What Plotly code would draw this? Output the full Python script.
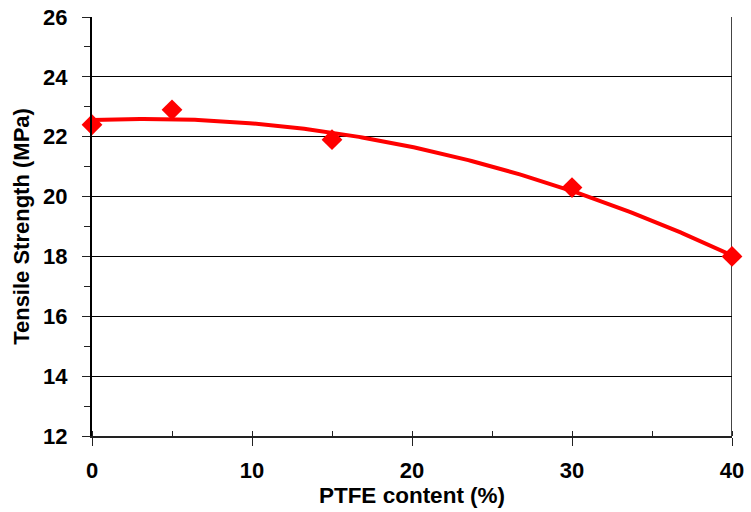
import numpy as np
import plotly.graph_objects as go

# PTFE content (%) and measured tensile strength (MPa)
ptfe_content = [0, 5, 15, 30, 40]
tensile_strength = [22.4, 22.9, 21.9, 20.3, 18.0]

# axis tick values and labels
x_ticks = [0, 10, 20, 30, 40]
y_ticks = [12, 14, 16, 18, 20, 22, 24, 26]

# second-order polynomial trendline through the measurements
coeffs = np.polyfit(ptfe_content, tensile_strength, 2)
trend_x = np.linspace(min(ptfe_content), max(ptfe_content), 200)
trend_y = np.polyval(coeffs, trend_x)

RED = "#FF0000"
FONT = "Liberation Sans, Arial, sans-serif"
AXIS = "#222222"

fig = go.Figure()
fig.add_trace(go.Scatter(
    x=trend_x, y=trend_y, mode="lines",
    line=dict(color=RED, width=4), hoverinfo="skip", showlegend=False,
))
fig.add_trace(go.Scatter(
    x=ptfe_content, y=tensile_strength, mode="markers",
    marker=dict(symbol="diamond", size=16, color=RED),
    cliponaxis=False, showlegend=False,
))

fig.update_layout(
    width=751, height=512,
    margin=dict(l=92, r=19, t=17, b=76),
    paper_bgcolor="white", plot_bgcolor="white",
    font=dict(family=FONT, color="black"),
    xaxis=dict(
        range=[0, 40], automargin=False,
        tickmode="array", tickvals=x_ticks,
        ticktext=[f"<b>{v}</b>" for v in x_ticks],
        showgrid=False, zeroline=False,
        showline=True, linecolor=AXIS, linewidth=2,
        ticks="outside", ticklen=8, tickwidth=1, tickcolor=AXIS,
        ticklabelstandoff=6,
        minor=dict(tickmode="linear", tick0=0, dtick=5, ticks="inside",
                   ticklen=5, tickcolor=AXIS, showgrid=False),
        tickfont=dict(size=22, family=FONT),
        title=dict(text="<b>PTFE content (%)</b>", font=dict(size=22.5, family=FONT), standoff=3),
    ),
    yaxis=dict(
        range=[12, 26], automargin=False,
        tickmode="array", tickvals=y_ticks,
        ticktext=[f"<b>{v}</b>" for v in y_ticks],
        showgrid=True, gridcolor="black", gridwidth=1, zeroline=False,
        showline=True, linecolor="black", linewidth=2,
        ticks="outside", ticklen=8, tickwidth=1, tickcolor=AXIS,
        ticklabelstandoff=10,
        minor=dict(tickmode="linear", tick0=12, dtick=1, ticks="outside",
                   ticklen=6, tickcolor=AXIS, showgrid=False),
        tickfont=dict(size=22, family=FONT),
        title=dict(text="<b>Tensile Strength (MPa)</b>", font=dict(size=22, family=FONT), standoff=7),
    ),
)

# right-hand frame edge of the plot area
fig.add_shape(type="line", xref="x", yref="paper", x0=40, x1=40, y0=0, y1=1,
              line=dict(color="#444", width=2), layer="below")

fig.write_html("out.html")
